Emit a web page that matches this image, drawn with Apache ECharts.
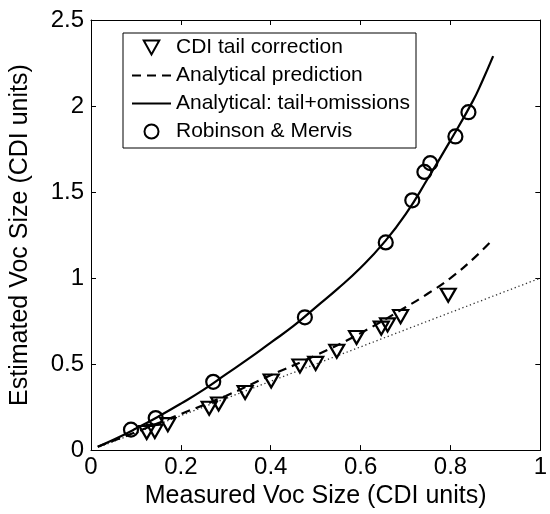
<!DOCTYPE html>
<html>
<head>
<meta charset="utf-8">
<script src="https://cdn.jsdelivr.net/npm/echarts@6/dist/echarts.min.js"></script>
<style>
html,body{margin:0;padding:0;background:#fff;}
#chart{width:550px;height:514px;}
</style>
</head>
<body>
<div id="chart"></div>
<script>
// CDI tail correction (triangles)
var triX = [0.124, 0.142, 0.171, 0.263, 0.284, 0.343, 0.401, 0.465, 0.500, 0.547, 0.591, 0.646, 0.660, 0.689, 0.795];
var triY = [0.102, 0.109, 0.148, 0.243, 0.268, 0.335, 0.402, 0.489, 0.504, 0.575, 0.655, 0.709, 0.728, 0.776, 0.900];
// Robinson & Mervis (circles)
var circX = [0.089, 0.144, 0.272, 0.476, 0.656, 0.715, 0.742, 0.755, 0.811, 0.840];
var circY = [0.119, 0.186, 0.397, 0.772, 1.207, 1.452, 1.617, 1.668, 1.823, 1.964];
// Analytical prediction (dashed)
var predX = [0.015, 0.1, 0.2, 0.3, 0.4, 0.5, 0.6, 0.7, 0.75, 0.8, 0.85, 0.895];
var predY = [0.02, 0.105, 0.21, 0.315, 0.435, 0.55, 0.68, 0.83, 0.91, 1.0, 1.11, 1.226];
// Analytical: tail+omissions (solid)
var fullX = [0.015, 0.05, 0.1, 0.15, 0.2, 0.25, 0.3, 0.35, 0.4, 0.45, 0.5, 0.55, 0.6, 0.65, 0.7, 0.75, 0.8, 0.85, 0.87, 0.895];
var fullY = [0.02, 0.06, 0.125, 0.195, 0.27, 0.35, 0.44, 0.53, 0.625, 0.72, 0.83, 0.94, 1.06, 1.2, 1.37, 1.58, 1.8, 2.03, 2.14, 2.29];
// identity reference (dotted)
var diagX = [0.02, 1];
var diagY = [0.02, 1];

var xTicks = [0, 0.2, 0.4, 0.6, 0.8, 1];
var yTicks = [0, 0.5, 1, 1.5, 2, 2.5];

function pairs(xs, ys) { return xs.map(function (x, i) { return [x, ys[i]]; }); }

var FONT = 'Liberation Sans, Arial, Helvetica, sans-serif';
var chart = echarts.init(document.getElementById('chart'), null, {renderer: 'canvas'});

function axisCommon(extra) {
  var base = {
    type: 'value',
    axisLine: {show: true, onZero: false, lineStyle: {color: '#000', width: 1}},
    axisTick: {show: true, inside: true, length: 5, lineStyle: {color: '#000', width: 1}},
    splitLine: {show: false},
    axisLabel: {color: '#000', fontSize: 24, fontFamily: FONT}
  };
  for (var k in extra) base[k] = extra[k];
  return base;
}

var hiddenSym = {color: 'rgba(0,0,0,0)', borderColor: 'rgba(0,0,0,0)', borderWidth: 0, opacity: 0};

var option = {
  animation: false,
  backgroundColor: '#fff',
  grid: {left: 90, right: 3, top: 20, bottom: 59, containLabel: false},
  xAxis: [
    axisCommon({min: xTicks[0], max: xTicks[xTicks.length - 1], interval: 0.2, position: 'bottom',
      axisLabel: {color: '#000', fontSize: 24, fontFamily: FONT, margin: 5},
      name: 'Measured Voc Size (CDI units)', nameLocation: 'middle', nameGap: 30,
      nameTextStyle: {color: '#000', fontSize: 25, fontFamily: FONT}}),
    axisCommon({min: xTicks[0], max: xTicks[xTicks.length - 1], interval: 0.2, position: 'top',
      axisLabel: {show: false}})
  ],
  yAxis: [
    axisCommon({min: yTicks[0], max: yTicks[yTicks.length - 1], interval: 0.5, position: 'left',
      axisLabel: {color: '#000', fontSize: 24, fontFamily: FONT, margin: 7},
      name: 'Estimated Voc Size (CDI units)', nameLocation: 'middle', nameGap: 58,
      nameTextStyle: {color: '#000', fontSize: 25, fontFamily: FONT}}),
    axisCommon({min: yTicks[0], max: yTicks[yTicks.length - 1], interval: 0.5, position: 'right',
      axisLabel: {show: false}})
  ],
  legend: {
    orient: 'vertical',
    left: 123, top: 33,
    padding: [4, 6, 6, 8],
    itemWidth: 39, itemHeight: 14, itemGap: 7,
    borderColor: '#000', borderWidth: 1, backgroundColor: '#fff',
    textStyle: {color: '#000', fontSize: 21, fontFamily: FONT},
    selectedMode: false,
    data: [
      {name: 'CDI tail correction'},
      {name: 'Analytical prediction', itemStyle: hiddenSym},
      {name: 'Analytical: tail+omissions', itemStyle: hiddenSym},
      {name: 'Robinson & Mervis'}
    ]
  },
  series: [
    {
      name: 'identity', type: 'line', data: pairs(diagX, diagY), symbol: 'none',
      lineStyle: {color: '#333', width: 1.3, type: [1.3, 2.7]}, silent: true, z: 1
    },
    {
      name: 'Analytical prediction', type: 'line', data: pairs(predX, predY), symbol: 'none', smooth: true,
      lineStyle: {color: '#000', width: 2.2, type: [9, 6]}, itemStyle: {color: '#000'}, z: 2
    },
    {
      name: 'Analytical: tail+omissions', type: 'line', data: pairs(fullX, fullY), symbol: 'none', smooth: true,
      lineStyle: {color: '#000', width: 2.2, type: 'solid'}, itemStyle: {color: '#000'}, z: 2
    },
    {
      name: 'CDI tail correction', type: 'scatter', data: pairs(triX, triY),
      symbol: 'path://M0,0L10,0L5,9Z', symbolSize: [15, 13],
      itemStyle: {color: 'rgba(0,0,0,0)', borderColor: '#000', borderWidth: 2.2, opacity: 1}, z: 3
    },
    {
      name: 'Robinson & Mervis', type: 'scatter', data: pairs(circX, circY),
      symbol: 'circle', symbolSize: 14,
      itemStyle: {color: 'rgba(0,0,0,0)', borderColor: '#000', borderWidth: 2.2, opacity: 1}, z: 3
    }
  ]
};
chart.setOption(option);
</script>
</body>
</html>
